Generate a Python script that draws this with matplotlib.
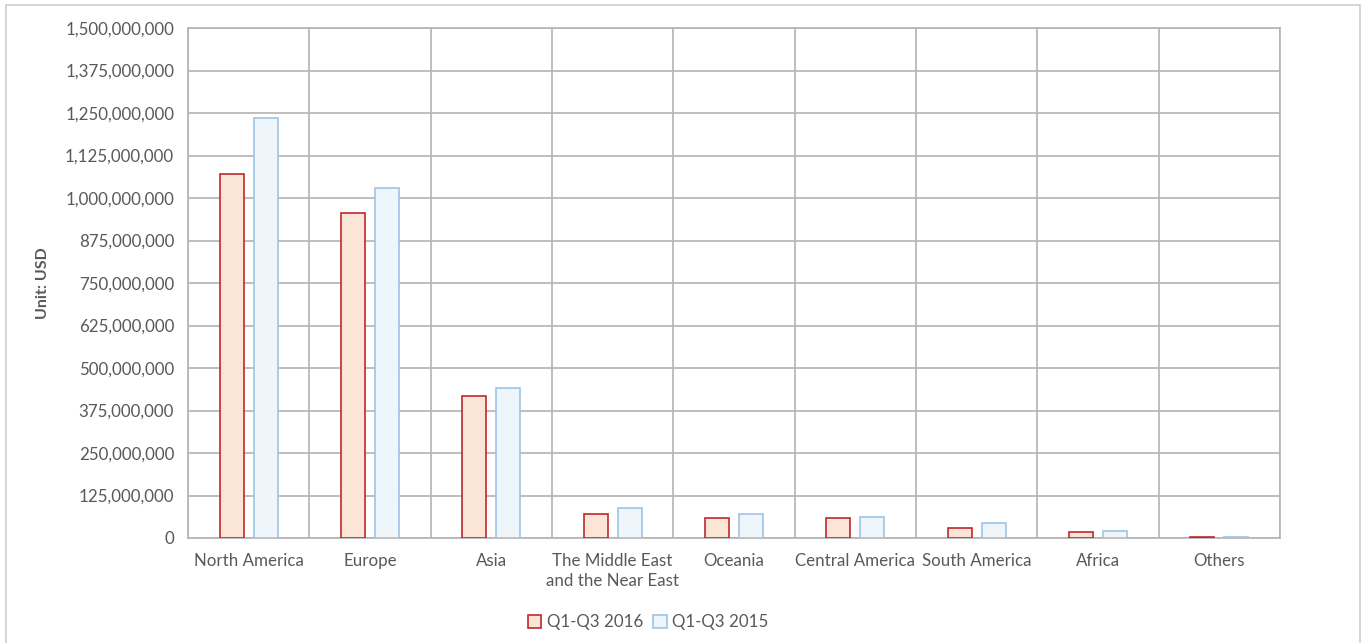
import numpy as np
import matplotlib
matplotlib.use('Agg')
import matplotlib.pyplot as plt
from matplotlib.patches import Rectangle
from matplotlib.ticker import FuncFormatter, MultipleLocator

# --- Data (USD) ---
regions = ['North America', 'Europe', 'Asia', 'The Middle East\nand the Near East',
           'Oceania', 'Central America', 'South America', 'Africa', 'Others']
sales_2016 = [1072e6, 955e6, 418e6, 70e6, 60e6, 58e6, 29e6, 17e6, 2e6]
sales_2015 = [1234e6, 1028e6, 442e6, 89e6, 70e6, 63e6, 44e6, 20e6, 2e6]
y_ticks = np.arange(0, 1500e6 + 1, 125e6)

TEXT = '#595959'
GRID = '#b3b3b3'
plt.rcParams['font.family'] = ['Lato', 'DejaVu Sans']

fig = plt.figure(figsize=(13.64, 6.43), dpi=100)
W, H = 1364, 643
ax = fig.add_axes([188 / W, 1 - 538 / H, (1280 - 188) / W, (538 - 28) / H])

# outer chart frame
fig.patches.append(Rectangle((6 / W, -0.01), (1360 - 6) / W, 1 - 5 / H + 0.01,
                             transform=fig.transFigure, fill=False,
                             edgecolor='#d0d0d0', linewidth=1.2))

x = np.arange(len(regions))
bw = 0.2
ax.bar(x - 0.14, sales_2016, bw, color='#fbe5d6', edgecolor='#c0282d',
       linewidth=1.2, label='Q1-Q3 2016', zorder=3)
ax.bar(x + 0.14, sales_2015, bw, color='#eef5fb', edgecolor='#9dc3e6',
       linewidth=1.2, label='Q1-Q3 2015', zorder=3)

ax.set_xlim(-0.5, len(regions) - 0.5)
ax.set_ylim(0, 1500e6)
ax.set_yticks(y_ticks)
ax.yaxis.set_major_formatter(FuncFormatter(lambda v, p: f'{int(round(v)):,}'))
ax.set_xticks(x)
ax.set_xticklabels(regions, linespacing=1.3)
ax.xaxis.set_minor_locator(MultipleLocator(1, offset=0.5))

ax.grid(axis='y', which='major', color=GRID, linewidth=1.2, zorder=0)
ax.grid(axis='x', which='minor', color=GRID, linewidth=1.2, zorder=0)
ax.tick_params(axis='both', which='both', length=0, colors=TEXT, labelsize=12.2)
ax.tick_params(axis='x', pad=11)
ax.tick_params(axis='y', pad=10)
for s in ax.spines.values():
    s.set_color(GRID)
    s.set_linewidth(1.2)

ax.set_ylabel('Unit: USD', fontsize=11.5, fontweight='bold', color=TEXT, labelpad=11)

leg = fig.legend(loc='center', bbox_to_anchor=(0.475, 1 - 622 / H), ncol=2,
                 frameon=False, fontsize=12.2, handlelength=0.8, handleheight=0.8,
                 handletextpad=0.3, columnspacing=0.6)
for t in leg.get_texts():
    t.set_color(TEXT)

fig.savefig('out.png', dpi=100)
